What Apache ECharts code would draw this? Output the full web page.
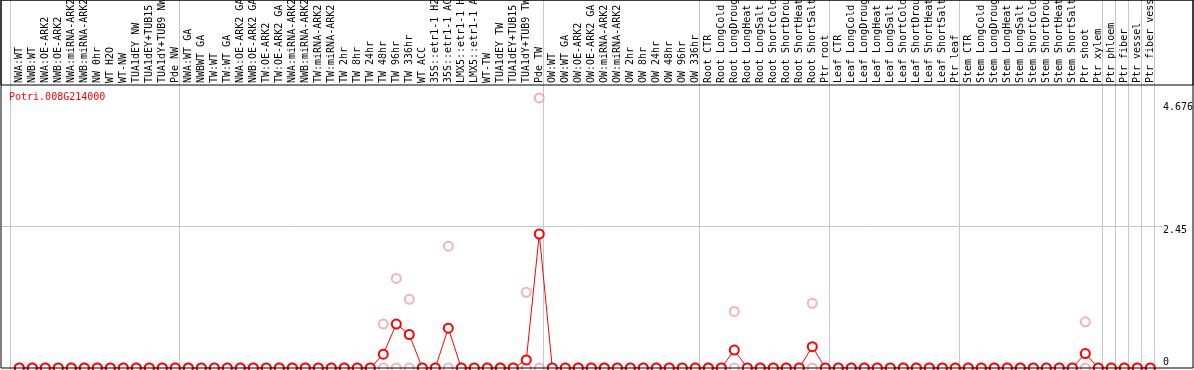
<!DOCTYPE html>
<html>
<head>
<meta charset="utf-8">
<script src="https://cdn.jsdelivr.net/npm/echarts@6/dist/echarts.min.js"></script>
<style>
  html, body { margin: 0; padding: 0; background: #fff; }
  #chart { width: 1194px; height: 370px; }
</style>
</head>
<body>
<div id="chart"></div>
<script>
// gene shown in the chart
const geneName = 'Potri.008G214000'

// sample names, in plot order
const categories = [
  'NWA:WT', 'NWB:WT', 'NWA:OE-ARK2', 'NWB:OE-ARK2', 'NWA:miRNA-ARK2', 'NWB:miRNA-ARK2',
  'NW 0hr', 'WT H2O', 'WT-NW', 'TUA1dEY NW', 'TUA1dEY+TUB15 NW', 'TUA1dY+TUB9 NW', 'Pde NW',
  'NWA:WT GA', 'NWBWT GA', 'TW:WT', 'TW:WT GA', 'NWA:OE-ARK2 GA', 'NWB:OE-ARK2 GA',
  'TW:OE-ARK2', 'TW:OE-ARK2 GA', 'NWA:miRNA-ARK2', 'NWB:miRNA-ARK2', 'TW:miRNA-ARK2',
  'TW:miRNA-ARK2', 'TW 2hr', 'TW 8hr', 'TW 24hr', 'TW 48hr', 'TW 96hr', 'TW 336hr',
  'WT ACC', '35S::etr1-1 H2O', '35S::etr1-1 ACC', 'LMX5::etr1-1 H2O', 'LMX5::etr1-1 ACC',
  'WT-TW', 'TUA1dEY TW', 'TUA1dEY+TUB15 TW', 'TUA1dY+TUB9 TW', 'Pde TW',
  'OW:WT', 'OW:WT GA', 'OW:OE-ARK2', 'OW:OE-ARK2 GA', 'OW:miRNA-ARK2', 'OW:miRNA-ARK2',
  'OW 2hr', 'OW 8hr', 'OW 24hr', 'OW 48hr', 'OW 96hr', 'OW 336hr',
  'Root CTR', 'Root LongCold', 'Root LongDrought', 'Root LongHeat', 'Root LongSalt',
  'Root ShortCold', 'Root ShortDrought', 'Root ShortHeat', 'Root ShortSalt', 'Ptr root',
  'Leaf CTR', 'Leaf LongCold', 'Leaf LongDrought', 'Leaf LongHeat', 'Leaf LongSalt',
  'Leaf ShortCold', 'Leaf ShortDrought', 'Leaf ShortHeat', 'Leaf ShortSalt', 'Ptr leaf',
  'Stem CTR', 'Stem LongCold', 'Stem LongDrought', 'Stem LongHeat', 'Stem LongSalt',
  'Stem ShortCold', 'Stem ShortDrought', 'Stem ShortHeat', 'Stem ShortSalt', 'Ptr shoot',
  'Ptr xylem', 'Ptr phloem', 'Ptr fiber', 'Ptr vessel', 'Ptr fiber vessel'
]

// index of the first sample of each experiment group
const groupStarts = [0, 13, 41, 53, 63, 73, 84, 85, 86, 87]

// mean expression (red line)
const meanValues = [
  0, 0, 0, 0, 0, 0, 0, 0, 0, 0, 0, 0, 0,
  0, 0, 0, 0, 0, 0, 0, 0, 0, 0, 0, 0, 0, 0, 0, 0.24, 0.76, 0.58,
  0, 0, 0.69, 0, 0, 0, 0, 0, 0.14, 2.32,
  0, 0, 0, 0, 0, 0, 0, 0, 0, 0, 0, 0,
  0, 0, 0.31, 0, 0, 0, 0, 0, 0.37, 0,
  0, 0, 0, 0, 0, 0, 0, 0, 0, 0,
  0, 0, 0, 0, 0, 0, 0, 0, 0, 0.25, 0,
  0, 0, 0, 0
]

// replicate values (pink circles)
const replicateA = [
  0, 0, 0, 0, 0, 0, 0, 0, 0, 0, 0, 0, 0,
  0, 0, 0, 0, 0, 0, 0, 0, 0, 0, 0, 0, 0, 0, 0, 0.76, 1.55, 1.19,
  0, 0, 2.11, 0, 0, 0, 0, 0, 1.31, 4.676,
  0, 0, 0, 0, 0, 0, 0, 0, 0, 0, 0, 0,
  0, 0, 0.98, 0, 0, 0, 0, 0, 1.12, 0,
  0, 0, 0, 0, 0, 0, 0, 0, 0, 0,
  0, 0, 0, 0, 0, 0, 0, 0, 0, 0.8, 0,
  0, 0, 0, 0
]
const replicateB = [
  0, 0, 0, 0, 0, 0, 0, 0, 0, 0, 0, 0, 0,
  0, 0, 0, 0, 0, 0, 0, 0, 0, 0, 0, 0, 0, 0, 0, 0, 0, 0,
  0, 0, 0, 0, 0, 0, 0, 0, 0, 0,
  0, 0, 0, 0, 0, 0, 0, 0, 0, 0, 0, 0,
  0, 0, 0, 0, 0, 0, 0, 0, 0, 0,
  0, 0, 0, 0, 0, 0, 0, 0, 0, 0,
  0, 0, 0, 0, 0, 0, 0, 0, 0, 0, 0,
  0, 0, 0, 0
]

// right axis labels
const yTickLabels = [0, 2.45, 4.676]

const monoFont = 'DejaVu Sans Mono'
const gridGray = '#c8c8c8'
const pink = '#f0a0a0'

const toPoints = (arr) => arr.map((v, i) => [i, v])

// hidden helper axes
const hiddenValue = (gridIndex) => ({ type: 'value', gridIndex, show: false })

const chart = echarts.init(document.getElementById('chart'))

const option = {
  animation: false,
  backgroundColor: '#fff',
  title: {
    text: geneName,
    left: 9,
    top: 92,
    padding: 0,
    textStyle: { fontFamily: monoFont, fontSize: 10, fontWeight: 'normal', color: '#ff0000' }
  },
  grid: [
    // 0: outer frame
    { left: 1, right: 1, top: 0, bottom: 2, show: true, borderColor: '#000', borderWidth: 1, z: 5, outerBoundsMode: 'none' },
    // 1: header box (sample names)
    { left: 1, right: 1, top: 0, height: 85, show: true, borderColor: '#000', borderWidth: 1, z: 5, outerBoundsMode: 'none' },
    // 2: group separators
    { left: 10, width: 1144, top: 0, bottom: 0, outerBoundsMode: 'none' },
    // 3: sample names
    { left: 12.5, width: 1144, top: 85, bottom: 2, outerBoundsMode: 'none' },
    // 4: plot
    { left: 1, right: 32, top: 85, bottom: 2, outerBoundsMode: 'none' }
  ],
  xAxis: [
    hiddenValue(0),
    hiddenValue(1),
    {
      type: 'category',
      gridIndex: 2,
      data: categories,
      axisLine: { show: false },
      axisTick: { show: false },
      axisLabel: { show: false },
      splitLine: {
        show: true,
        interval: (index) => groupStarts.includes(index),
        lineStyle: { color: gridGray, width: 1 }
      }
    },
    {
      type: 'category',
      gridIndex: 3,
      position: 'top',
      data: categories,
      axisLine: { show: false },
      axisTick: { show: false },
      splitLine: { show: false },
      axisLabel: {
        interval: 0,
        rotate: 90,
        margin: 2,
        color: '#000',
        fontFamily: monoFont,
        fontSize: 10
      }
    },
    {
      type: 'value',
      gridIndex: 4,
      // sample i sits at x = 19 + 13 * i
      min: -18.3 / 13,
      max: 1142.7 / 13,
      show: false
    }
  ],
  yAxis: [
    hiddenValue(0),
    hiddenValue(1),
    hiddenValue(2),
    hiddenValue(3),
    {
      type: 'value',
      gridIndex: 4,
      position: 'right',
      min: 0,
      max: 4.9,
      interval: 2.45,
      axisLine: { show: false },
      axisTick: { show: false },
      splitLine: {
        show: true,
        showMinLine: false,
        showMaxLine: false,
        lineStyle: { color: gridGray, width: 1 }
      },
      axisLabel: {
        customValues: yTickLabels,
        margin: 1,
        align: 'left',
        color: '#000',
        fontFamily: monoFont,
        fontSize: 10,
        formatter: (v) => {
          if (v === 0) return '{z|0}'
          if (v > 4) return '{t|' + v + '}'
          return '{m|' + v + '}'
        },
        rich: {
          z: { fontFamily: monoFont, fontSize: 10, color: '#000', padding: [0, 0, 12, 0] },
          m: { fontFamily: monoFont, fontSize: 10, color: '#000', padding: [8, 0, 0, 0] },
          t: { fontFamily: monoFont, fontSize: 10, color: '#000', padding: [18, 0, 0, 0] }
        }
      }
    }
  ],
  series: [
    {
      name: 'replicate A',
      type: 'scatter',
      xAxisIndex: 4,
      yAxisIndex: 4,
      data: toPoints(replicateA),
      symbol: 'emptyCircle',
      symbolSize: 9,
      itemStyle: { color: pink, borderWidth: 1.5 },
      z: 2
    },
    {
      name: 'replicate B',
      type: 'scatter',
      xAxisIndex: 4,
      yAxisIndex: 4,
      data: toPoints(replicateB),
      symbol: 'emptyCircle',
      symbolSize: 9,
      itemStyle: { color: pink, borderWidth: 1.5 },
      z: 2
    },
    {
      name: 'mean',
      type: 'line',
      xAxisIndex: 4,
      yAxisIndex: 4,
      data: toPoints(meanValues),
      symbol: 'emptyCircle',
      symbolSize: 9,
      showAllSymbol: true,
      lineStyle: { color: '#ff0000', width: 1 },
      itemStyle: { color: '#ff0000', borderWidth: 1.5 },
      z: 3
    }
  ]
}

chart.setOption(option)
</script>
</body>
</html>
